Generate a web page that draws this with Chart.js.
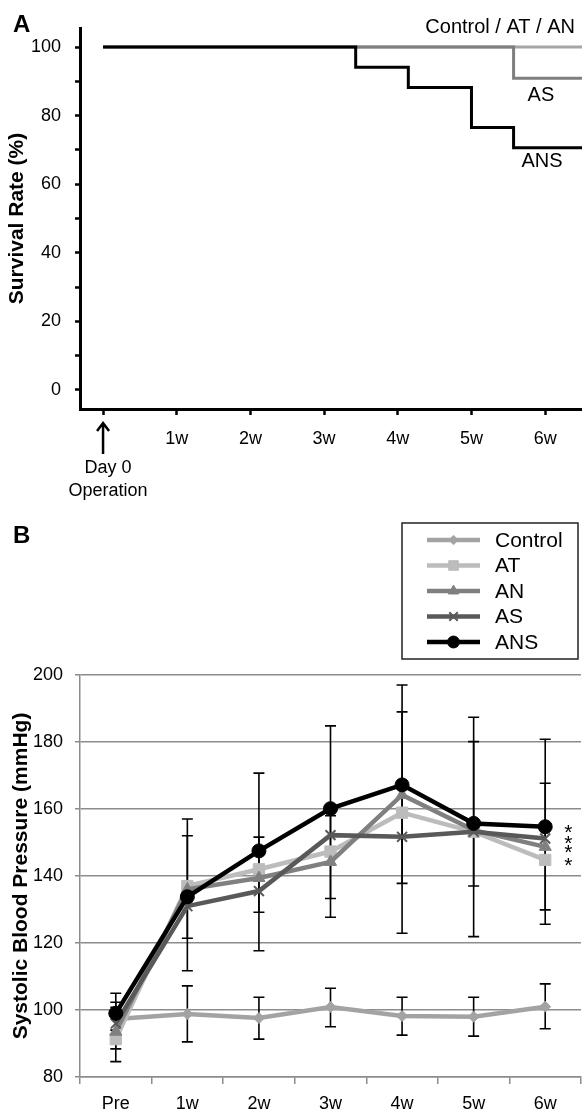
<!DOCTYPE html>
<html>
<head>
<meta charset="utf-8">
<script src="https://cdn.jsdelivr.net/npm/chart.js@4.4.1/dist/chart.umd.min.js"></script>
<style>
  html, body { margin: 0; padding: 0; background: #fff; }
  canvas { display: block; }
</style>
</head>
<body>
<canvas id="survival" width="582" height="510"></canvas>
<canvas id="pressure" width="582" height="605"></canvas>
<script>
// Panel A: survival after operation (x in days)
const weekLabels = ['', '1w', '2w', '3w', '4w', '5w', '6w'];
const ansDays = [0, 24, 29, 35, 39, 46];
const ansSurvival = [100, 94.1, 88.2, 76.5, 70.6, 70.6];
const asDays = [0, 39, 46];
const asSurvival = [100, 90.9, 90.9];
const ctrlDays = [0, 46];
const ctrlSurvival = [100, 100];

// Panel B: systolic blood pressure (mmHg)
const timepoints = ['Pre', '1w', '2w', '3w', '4w', '5w', '6w'];
const controlBP = [97.3, 98.8, 97.6, 100.9, 98.2, 98.0, 101.0];
const atBP = [91.3, 137.0, 142.0, 147.3, 158.9, 153.2, 144.8];
const anBP = [93.5, 136.0, 139.4, 144.2, 164.2, 153.7, 148.7];
const asBP = [96.0, 131.0, 135.5, 152.2, 151.7, 153.2, 151.2];
const ansBP = [99.0, 133.8, 147.5, 160.1, 167.2, 155.7, 154.7];

// error bars (low / high ends)
const outerLow = [84.6, 111.7, 117.7, 127.7, 122.9, 121.9, 125.6];
const outerHigh = [105.0, 157.0, 170.7, 184.8, 197.0, 187.4, 180.8];
const innerLow = [88.4, 121.4, 129.2, 133.3, 137.8, 137.0, 129.9];
const innerHigh = [102.3, 152.0, 151.6, 158.0, 189.0, 180.1, 167.7];
const controlLow = [94.0, 90.5, 91.3, 95.0, 92.5, 92.2, 94.4];
const controlHigh = [100.8, 107.2, 103.8, 106.5, 103.8, 103.8, 107.8];

const FONT = '"Liberation Sans", Arial, Helvetica, sans-serif';
Chart.defaults.font.family = FONT;
Chart.defaults.color = '#000';

const toXY = (xs, ys) => xs.map((x, i) => ({ x: x, y: ys[i] }));

function stepLine(label, days, values, color) {
  return {
    label: label,
    data: toXY(days, values),
    borderColor: color,
    borderWidth: 3,
    stepped: true,
    pointRadius: 0,
    fill: false
  };
}

// texts and the Day 0 arrow for panel A
const survivalOverlay = {
  id: 'survivalOverlay',
  afterDraw(chart) {
    const ctx = chart.ctx;
    const x = chart.scales.x, y = chart.scales.y;
    ctx.save();
    ctx.fillStyle = '#000';
    ctx.font = 'bold 24px ' + FONT;
    ctx.textAlign = 'left';
    ctx.textBaseline = 'alphabetic';
    ctx.fillText('A', 13, 32);

    ctx.font = '20px ' + FONT;
    ctx.textBaseline = 'middle';
    ctx.textAlign = 'right';
    ctx.fillText('Control / AT / AN', 575, y.getPixelForValue(100) - 20);
    ctx.textAlign = 'center';
    ctx.fillText('AS', x.getPixelForValue(41.6), y.getPixelForValue(86));
    ctx.fillText('ANS', x.getPixelForValue(41.7), y.getPixelForValue(66.5));

    // operation arrow
    const x0 = x.getPixelForValue(0);
    const base = chart.chartArea.bottom;
    ctx.strokeStyle = '#000';
    ctx.lineWidth = 2.5;
    ctx.beginPath();
    ctx.moveTo(x0, base + 15);
    ctx.lineTo(x0, base + 45);
    ctx.moveTo(x0 - 6, base + 22);
    ctx.lineTo(x0, base + 14);
    ctx.lineTo(x0 + 6, base + 22);
    ctx.stroke();
    ctx.font = '18px ' + FONT;
    ctx.fillText('Day 0', x0 + 5, base + 59);
    ctx.fillText('Operation', x0 + 5, base + 82);
    ctx.restore();
  }
};

new Chart(document.getElementById('survival'), {
  type: 'line',
  data: {
    datasets: [
      stepLine('ANS', ansDays, ansSurvival, '#000000'),
      stepLine('AS', asDays, asSurvival, '#7f7f7f'),
      stepLine('Control / AT / AN', ctrlDays, ctrlSurvival, '#a6a6a6')
    ]
  },
  options: {
    responsive: false,
    animation: false,
    devicePixelRatio: 1,
    layout: { autoPadding: false, padding: { top: 28, right: 0, left: 0, bottom: 0 } },
    plugins: { legend: { display: false }, tooltip: { enabled: false } },
    scales: {
      x: {
        type: 'linear',
        min: -2.19,
        max: 45.5,
        afterBuildTicks: (s) => { s.ticks = weekLabels.map((_, i) => ({ value: i * 7 })); },
        afterFit: (s) => { s.height = 101; s.paddingLeft = 0; s.paddingRight = 0; },
        ticks: {
          callback: (v, i) => weekLabels[i],
          font: { size: 18 },
          padding: 13,
          maxRotation: 0,
          autoSkip: false
        },
        grid: { drawOnChartArea: false, tickLength: 6, tickWidth: 2.5, tickColor: '#000' },
        border: { color: '#000', width: 3 }
      },
      y: {
        min: -5.54,
        max: 105.54,
        afterBuildTicks: (s) => {
          const t = [];
          for (let v = 0; v <= 100; v += 10) t.push({ value: v });
          s.ticks = t;
        },
        afterFit: (s) => { s.width = 80; },
        ticks: {
          callback: (v) => (v % 20 === 0 ? String(v) : ''),
          font: { size: 18 },
          padding: 14,
          autoSkip: false
        },
        grid: { drawOnChartArea: false, tickLength: 5, tickWidth: 2.5, tickColor: '#000' },
        border: { color: '#000', width: 3 },
        title: {
          display: true,
          text: 'Survival Rate (%)',
          font: { size: 21, weight: 'bold' },
          padding: { top: 5, bottom: 0 }
        }
      }
    }
  },
  plugins: [survivalOverlay]
});

// Panel B
function series(label, data, color, pointStyle, radius, order) {
  return {
    label: label,
    data: data,
    order: order,
    borderColor: color,
    backgroundColor: color,
    pointBackgroundColor: color,
    pointBorderColor: color,
    pointStyle: pointStyle,
    pointRadius: radius,
    pointBorderWidth: pointStyle === 'crossRot' ? 2 : 1,
    borderWidth: 4.5,
    tension: 0,
    fill: false
  };
}

const errorBarSets = [
  { low: outerLow, high: outerHigh },
  { low: innerLow, high: innerHigh },
  { low: controlLow, high: controlHigh }
];

const errorBars = {
  id: 'errorBars',
  beforeDatasetsDraw(chart) {
    const ctx = chart.ctx;
    const x = chart.scales.x, y = chart.scales.y;
    ctx.save();
    ctx.strokeStyle = '#000';
    ctx.lineWidth = 1.6;
    errorBarSets.forEach((set) => {
      set.low.forEach((lo, i) => {
        const px = x.getPixelForValue(i);
        const y1 = y.getPixelForValue(lo);
        const y2 = y.getPixelForValue(set.high[i]);
        ctx.beginPath();
        ctx.moveTo(px, y1);
        ctx.lineTo(px, y2);
        ctx.moveTo(px - 5.5, y1);
        ctx.lineTo(px + 5.5, y1);
        ctx.moveTo(px - 5.5, y2);
        ctx.lineTo(px + 5.5, y2);
        ctx.stroke();
      });
    });
    ctx.restore();
  }
};

// boxed legend, "B" label and significance stars
const pressureOverlay = {
  id: 'pressureOverlay',
  afterDraw(chart) {
    const ctx = chart.ctx;
    const x = chart.scales.x, y = chart.scales.y;
    ctx.save();
    ctx.fillStyle = '#000';
    ctx.font = 'bold 24px ' + FONT;
    ctx.textBaseline = 'alphabetic';
    ctx.fillText('B', 13, 33);

    // significance stars next to the 6w values
    ctx.font = '21px ' + FONT;
    ctx.textAlign = 'center';
    const last = timepoints.length - 1;
    chart.data.datasets.forEach((ds) => {
      if (ds.label === 'Control') return;
      ctx.fillText('*', x.getPixelForValue(last) + 23, y.getPixelForValue(ds.data[last]) + 12);
    });

    // legend
    ctx.strokeStyle = '#222';
    ctx.lineWidth = 1.5;
    ctx.strokeRect(402, 13, 176, 136);
    ctx.textAlign = 'left';
    ctx.textBaseline = 'middle';
    ctx.font = '21px ' + FONT;
    chart.data.datasets.forEach((ds, i) => {
      const ly = 30 + i * 25.5;
      ctx.strokeStyle = ds.borderColor;
      ctx.fillStyle = ds.borderColor;
      ctx.lineWidth = 4.5;
      ctx.beginPath();
      ctx.moveTo(427, ly);
      ctx.lineTo(480, ly);
      ctx.stroke();
      ctx.lineWidth = ds.pointBorderWidth;
      Chart.helpers.drawPoint(ctx, {
        pointStyle: ds.pointStyle,
        rotation: 0,
        radius: ds.pointRadius * 0.85,
        borderWidth: ds.pointBorderWidth
      }, 453.5, ly);
      ctx.fillStyle = '#000';
      ctx.fillText(ds.label, 495, ly + 1);
    });
    ctx.restore();
  }
};

new Chart(document.getElementById('pressure'), {
  type: 'line',
  data: {
    labels: timepoints,
    datasets: [
      series('Control', controlBP, '#a3a3a3', 'rectRot', 5.5, 5),
      series('AT', atBP, '#bcbcbc', 'rect', 8, 4),
      series('AN', anBP, '#808080', 'triangle', 7, 3),
      series('AS', asBP, '#595959', 'crossRot', 7, 2),
      series('ANS', ansBP, '#000000', 'circle', 7, 1)
    ]
  },
  options: {
    responsive: false,
    animation: false,
    devicePixelRatio: 1,
    layout: { autoPadding: false, padding: { top: 165, right: 1, left: 0, bottom: 0 } },
    plugins: { legend: { display: false }, tooltip: { enabled: false } },
    scales: {
      x: {
        offset: true,
        afterFit: (s) => { s.height = 38; s.paddingLeft = 0; s.paddingRight = 0; },
        ticks: { font: { size: 18 }, padding: 9, maxRotation: 0 },
        grid: { offset: true, drawOnChartArea: false, tickLength: 7, color: '#8c8c8c', lineWidth: 1.5 },
        border: { color: '#8c8c8c', width: 1.5 }
      },
      y: {
        min: 80,
        max: 200,
        afterFit: (s) => { s.width = 80; },
        ticks: { stepSize: 20, font: { size: 18 }, padding: 12 },
        grid: { color: '#8c8c8c', lineWidth: 1.5, tickLength: 5 },
        border: { color: '#8c8c8c', width: 1.5 },
        title: {
          display: true,
          text: 'Systolic Blood Pressure (mmHg)',
          font: { size: 21, weight: 'bold' },
          padding: { top: 9, bottom: 0 }
        }
      }
    }
  },
  plugins: [errorBars, pressureOverlay]
});
</script>
</body>
</html>
